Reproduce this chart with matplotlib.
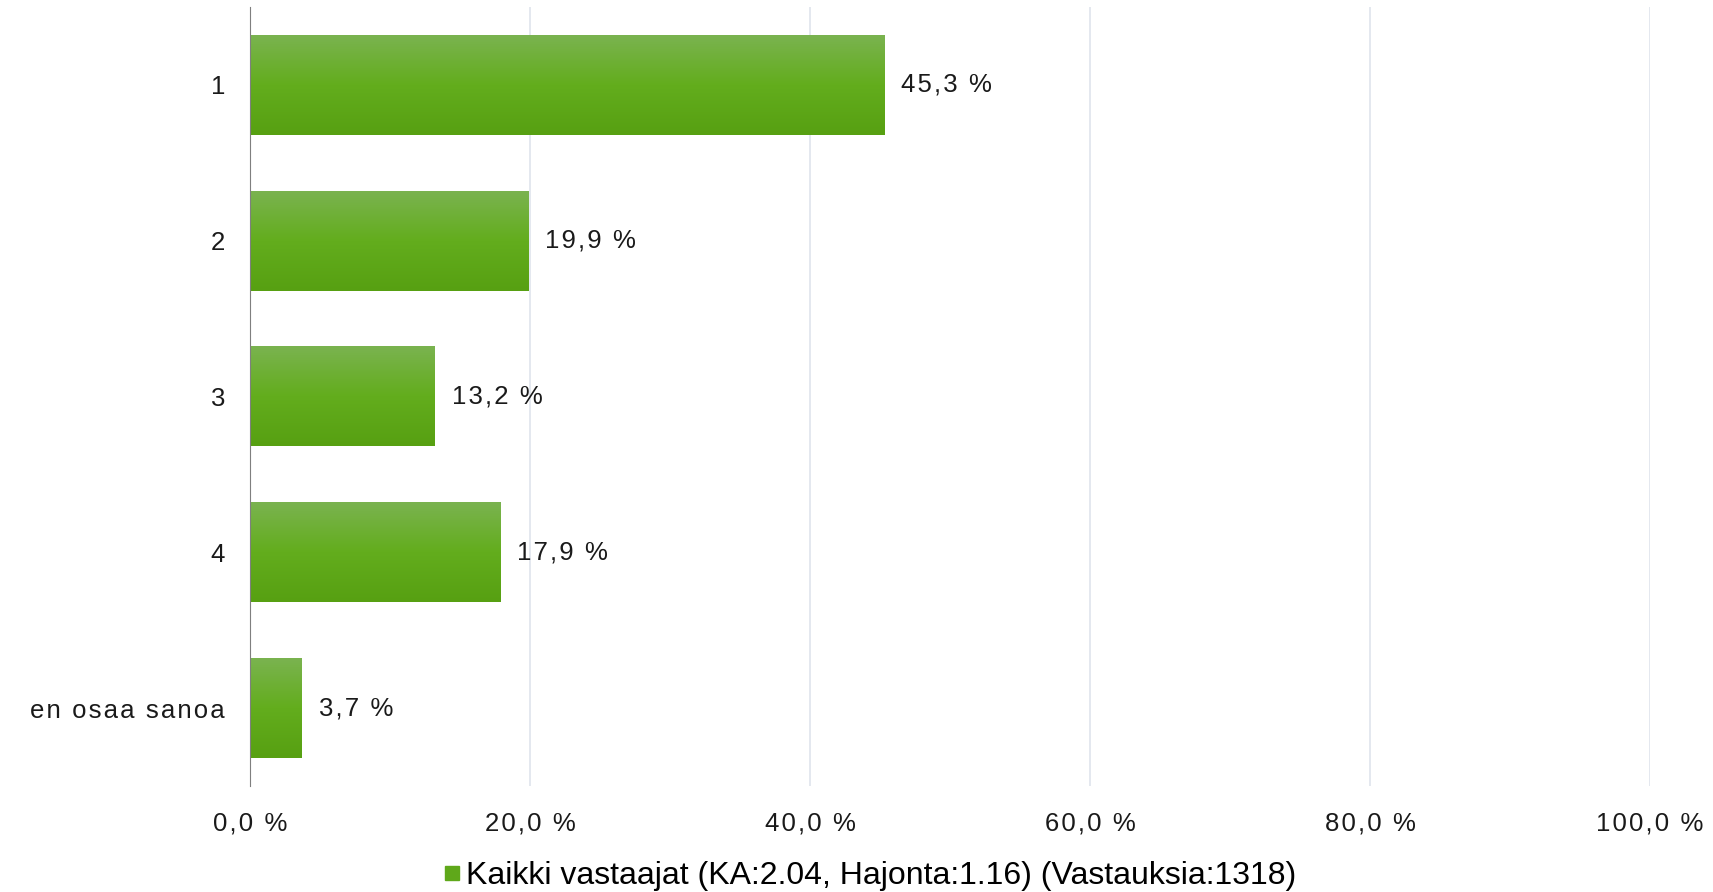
import numpy as np
import matplotlib
matplotlib.use("Agg")
import matplotlib.pyplot as plt
from matplotlib.colors import LinearSegmentedColormap
from matplotlib.lines import Line2D

categories = ['1', '2', '3', '4', 'en osaa sanoa']
values = [45.3, 19.9, 13.2, 17.9, 3.7]
value_labels = ['45,3 %', '19,9 %', '13,2 %', '17,9 %', '3,7 %']
x_ticks = [0, 20, 40, 60, 80, 100]
x_tick_labels = ['0,0 %', '20,0 %', '40,0 %', '60,0 %', '80,0 %', '100,0 %']
legend_label = 'Kaikki vastaajat (KA:2.04, Hajonta:1.16) (Vastauksia:1318)'

plt.rcParams['font.family'] = ['Liberation Sans', 'DejaVu Sans']


def spaced(s):
    # the original chart uses wide letter spacing
    return '\u200a'.join(s)


fig = plt.figure(figsize=(17.13, 8.92), dpi=100)
ax = fig.add_axes([250 / 1713, 1 - 786 / 892, 1400 / 1713, 779 / 892])

grad = LinearSegmentedColormap.from_list('g', ['#7ab34f', '#63ad1d', '#57a012'])
gimg = np.linspace(0, 1, 100).reshape(-1, 1)

bar_h = 0.64
ypos = np.arange(len(categories))
for y, v, lab in zip(ypos, values, value_labels):
    # gradient fill, top light -> bottom dark
    ax.imshow(gimg, cmap=grad, aspect='auto', interpolation='bilinear',
              extent=[0, v, y + bar_h / 2, y - bar_h / 2], zorder=2)
    ax.text(v + 1.2, y, spaced(lab), va='center', ha='left', fontsize=18.5, color='#1a1a1a')

ax.set_xlim(0, 100)
ax.set_ylim(len(categories) - 0.5, -0.5)
ax.set_yticks(ypos)
ax.set_yticklabels([spaced(c) for c in categories], fontsize=18.5, color='#1a1a1a')
ax.set_xticks(x_ticks)
ax.set_xticklabels([spaced(t) for t in x_tick_labels], fontsize=18.5, color='#1a1a1a')
ax.tick_params(axis='both', length=0)
ax.tick_params(axis='y', pad=18)
ax.tick_params(axis='x', pad=18)

for s in ['top', 'right', 'bottom']:
    ax.spines[s].set_visible(False)
ax.spines['left'].set_color('#7f7f7f')
ax.spines['left'].set_zorder(3)
ax.grid(axis='x', color='#dfe4ec', linewidth=1.2, zorder=0)
ax.set_axisbelow(True)

handle = Line2D([], [], marker='s', linestyle='none', markersize=10,
                markerfacecolor='#5fa81a', markeredgecolor='#5fa81a')
fig.legend([handle], [legend_label], loc='center', bbox_to_anchor=(867 / 1713, 1 - 876 / 892),
           frameon=False, handletextpad=0.0, handlelength=0.9,
           prop={'family': ['Liberation Sans Narrow', 'Liberation Sans'], 'size': 23})

fig.savefig('out.png', dpi=100)
